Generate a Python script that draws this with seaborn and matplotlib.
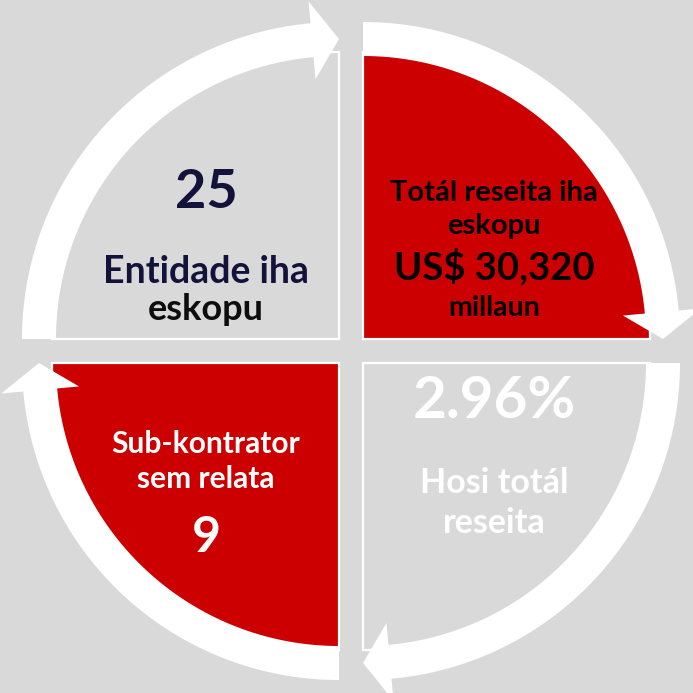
import numpy as np
import matplotlib
matplotlib.use("Agg")
import matplotlib.pyplot as plt
import seaborn as sns
from matplotlib.patches import Polygon

# ---------------- data ----------------
quadrants = ["Totál reseita iha eskopu", "Hosi totál reseita",
             "Sub-kontrator sem relata", "Entidade iha eskopu"]
shares = [1, 1, 1, 1]
quad_colors = ["#cc0000", "#d9d9d9", "#cc0000", "#d9d9d9"]

tr_lines = ["Totál reseita iha", "eskopu", "US$ 30,320", "millaun"]
br_lines = ["2.96%", "Hosi totál", "reseita"]
bl_lines = ["Sub-kontrator", "sem relata", "9"]
tl_lines = ["25", "Entidade iha", "eskopu"]

# ---------------- style ----------------
BG = "#d9d9d9"
sns.set_theme(style="white")
plt.rcParams["font.family"] = ["Lato", "DejaVu Sans"]

W = H = 693
fig = plt.figure(figsize=(6.93, 6.93), dpi=100)
fig.patch.set_facecolor(BG)
ax = fig.add_axes([0, 0, 1, 1])
ax.set_facecolor(BG)

cx, cy = 351, H - 351
R = 287
gap = 12
wedges, _ = ax.pie(shares, colors=quad_colors, startangle=90, counterclock=False,
                   radius=R, center=(cx, cy), explode=[gap * np.sqrt(2)] * 4,
                   wedgeprops=dict(edgecolor="white", linewidth=1.6), frame=True)
for w in wedges:
    w.set_zorder(1)

# circular arrows around every quadrant (clockwise)
r1, r2 = 283, 317
head_len, head_hw = 27, 39


def arrow_poly(c, a_start, a_tip):
    rm = (r1 + r2) / 2
    a_base = a_tip + np.degrees(head_len / rm)
    t = np.radians(np.linspace(a_start, a_base, 80))
    outer = np.c_[c[0] + r2 * np.cos(t), c[1] + r2 * np.sin(t)]
    inner = np.c_[c[0] + r1 * np.cos(t[::-1]), c[1] + r1 * np.sin(t[::-1])]
    ab, at = np.radians(a_base), np.radians(a_tip)
    head = np.array([
        (c[0] + (rm + head_hw) * np.cos(ab), c[1] + (rm + head_hw) * np.sin(ab)),
        (c[0] + rm * np.cos(at), c[1] + rm * np.sin(at)),
        (c[0] + (rm - head_hw) * np.cos(ab), c[1] + (rm - head_hw) * np.sin(ab)),
    ])
    return np.vstack([outer, head, inner])


for w in wedges:
    pts = arrow_poly(w.center, w.theta2, w.theta1)
    ax.add_patch(Polygon(pts, closed=True, facecolor="white", edgecolor="none", zorder=2))

# ---------------- text ----------------
xl, xr = cx - 145, cx + 143
NAVY = "#12123a"
layout = [
    (tr_lines, xr, [201, 234, 279, 316], [21, 21, 27.5, 20.5], ["#000000"] * 4),
    (br_lines, xr, [418, 493, 533], [42, 24.5, 24.5], ["white"] * 3),
    (bl_lines, xl, [453, 488, 552], [21.5, 21.5, 36], ["white"] * 3),
    (tl_lines, xl, [208, 283, 320], [39, 27, 26], [NAVY, NAVY, "#0d0d0d"]),
]
for lines, x, bases, sizes, cols in layout:
    for s, b, fs, col in zip(lines, bases, sizes, cols):
        ax.text(x, H - b, s, ha="center", va="baseline", fontsize=fs,
                fontweight="bold", color=col, zorder=3)

ax.set_xlim(0, W)
ax.set_ylim(0, H)
ax.set_aspect("equal")
ax.axis("off")
fig.savefig("out.png", dpi=100, facecolor=BG)
